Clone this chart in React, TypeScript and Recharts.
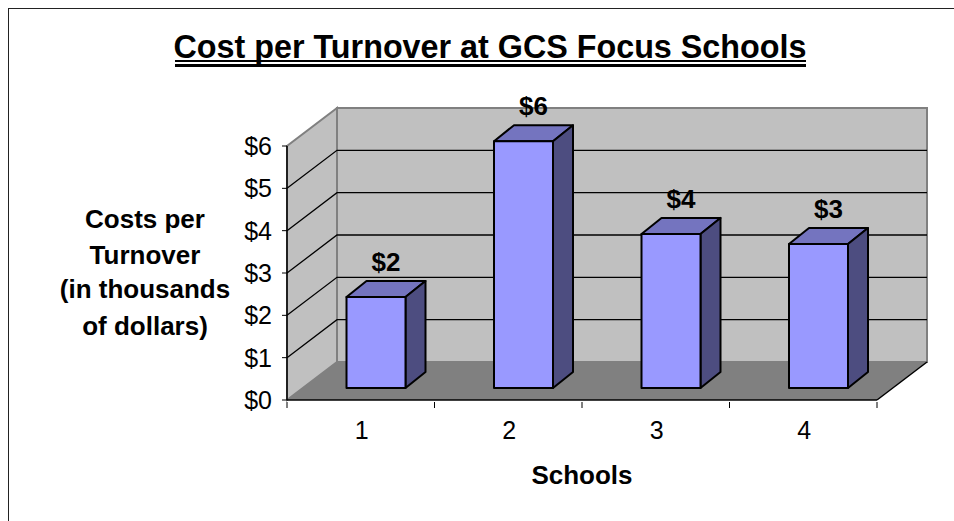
import { Bar, BarChart, LabelList, ReferenceArea, ReferenceLine, XAxis, YAxis } from "recharts";

const schools = ["1", "2", "3", "4"];
const costs = [2.15, 5.83, 3.64, 3.4];
const yTicks = [0, 1, 2, 3, 4, 5, 6];
const gridTicks = [1, 2, 3, 4, 5];
const yTitleLines = ["Costs per", "Turnover", "(in thousands", "of dollars)"];
const yTitleRows = [228, 264, 298, 335];

const chartData = schools.map((school, i) => ({ school, cost: costs[i] }));

const font = "'Liberation Sans', Arial, sans-serif";
const chartWidth = 954;
const chartHeight = 521;
const plot = { left: 287, top: 146, right: 77, bottom: 121 };
const bandWidth = (chartWidth - plot.left - plot.right) / schools.length;

// depth of the fake 3D box, and of the bars and how far they sit off the front edge
const depth = { dx: 50, dy: -38 };
const barDepth = { dx: 20, dy: -16 };
const barShift = { dx: 15.5, dy: -12 };

const WallsShape = ({ x, y, width, height }: any) => {
  const right = x + width;
  const bottom = y + height;
  const { dx, dy } = depth;
  return (
    <g>
      <polygon
        points={`${x},${bottom} ${x + dx},${bottom + dy} ${right + dx},${bottom + dy} ${right},${bottom}`}
        fill="#808080"
      />
      <polygon
        points={`${x},${bottom} ${x + dx},${bottom + dy} ${x + dx},${y + dy} ${x},${y}`}
        fill="#C0C0C0"
        stroke="#808080"
        strokeWidth={2}
      />
      <rect x={x + dx} y={y + dy} width={width} height={height} fill="#C0C0C0" stroke="#808080" strokeWidth={2} />
      <polygon
        points={`${x + dx},${bottom + dy} ${right + dx},${bottom + dy} ${right},${bottom} ${x},${bottom}`}
        fill="#808080"
      />
      <line x1={right} y1={bottom} x2={right + dx} y2={bottom + dy} stroke="#000" strokeWidth={1.5} />
    </g>
  );
};

const GridShape = ({ x1, y1, x2, y2 }: any) => {
  const { dx, dy } = depth;
  return (
    <polyline
      points={`${x1},${y1} ${x1 + dx},${y1 + dy} ${x2 + dx},${y2 + dy}`}
      fill="none"
      stroke="#000"
      strokeWidth={1.3}
    />
  );
};

const Bar3D = ({ x, y, width, height }: any) => {
  const left = x + barShift.dx;
  const top = y + barShift.dy;
  const right = left + width;
  const bottom = top + height;
  const { dx, dy } = barDepth;
  return (
    <g stroke="#000" strokeWidth={2} strokeLinejoin="round">
      <polygon
        points={`${left},${top} ${left + dx},${top + dy} ${right + dx},${top + dy} ${right},${top}`}
        fill="#7474BF"
      />
      <polygon
        points={`${right},${top} ${right + dx},${top + dy} ${right + dx},${bottom + dy} ${right},${bottom}`}
        fill="#4D4D80"
      />
      <rect x={left} y={top} width={width} height={height} fill="#9999FF" />
    </g>
  );
};

const BarValue = ({ x, y, width, value }: any) => (
  <text
    x={x + width / 2 + barShift.dx + barDepth.dx / 2}
    y={y + barShift.dy + barDepth.dy - 10}
    textAnchor="middle"
    fontFamily={font}
    fontWeight="bold"
    fontSize={26}
    fill="#000"
  >
    ${Math.round(value)}
  </text>
);

const SchoolTick = ({ x, y, payload, index }: any) => {
  const edge = x - bandWidth / 2;
  return (
    <g>
      <line x1={edge} y1={y - 8} x2={edge} y2={y - 2} stroke="#000" strokeWidth={1} />
      {index === schools.length - 1 && (
        <line x1={edge + bandWidth} y1={y - 8} x2={edge + bandWidth} y2={y - 2} stroke="#000" strokeWidth={1} />
      )}
      <text x={x + 1} y={y + 29} textAnchor="middle" fontFamily={font} fontSize={25} fill="#000">
        {payload.value}
      </text>
    </g>
  );
};

export default function App() {
  return (
    <div style={{ position: "absolute", left: 0, top: 0, width: chartWidth, height: chartHeight, overflow: "hidden", background: "#fff" }}>
      <div
        style={{
          position: "absolute",
          left: 8,
          top: 8,
          width: chartWidth,
          height: chartHeight,
          borderLeft: "1.5px solid #222",
          borderTop: "1.5px solid #222",
        }}
      />
      <BarChart
        width={chartWidth}
        height={chartHeight}
        data={chartData}
        margin={{ top: plot.top, right: plot.right, bottom: 0, left: 0 }}
        barSize={59}
        style={{ position: "absolute", left: 0, top: 0 }}
      >
        <XAxis
          dataKey="school"
          height={plot.bottom}
          axisLine={{ stroke: "#000", strokeWidth: 1.5 }}
          tickLine={false}
          tick={<SchoolTick />}
          tickSize={8}
          interval={0}
        />
        <YAxis
          width={plot.left}
          domain={[0, 6]}
          ticks={yTicks}
          tickFormatter={(v) => `$${v}`}
          axisLine={{ stroke: "#000", strokeWidth: 1.5 }}
          tickLine={{ stroke: "#000", strokeWidth: 1 }}
          tickSize={5}
          tick={{ fill: "#000", fontFamily: font, fontSize: 25 }}
          tickMargin={10}
        />
        <ReferenceArea y1={0} y2={6} shape={<WallsShape />} ifOverflow="visible" zIndex={40} />
        {gridTicks.map((tick) => (
          <ReferenceLine key={tick} y={tick} shape={<GridShape />} ifOverflow="visible" zIndex={50} />
        ))}
        <Bar dataKey="cost" shape={<Bar3D />} isAnimationActive={false}>
          <LabelList dataKey="cost" content={<BarValue />} />
        </Bar>
        <text x={490} y={58} textAnchor="middle" fontFamily={font} fontWeight="bold" fontSize={32.3} fill="#000">
          Cost per Turnover at GCS Focus Schools
        </text>
        <rect x={175} y={60} width={631} height={2} fill="#000" />
        <rect x={175} y={64} width={631} height={3} fill="#000" />
        {yTitleLines.map((line, i) => (
          <text key={line} x={145} y={yTitleRows[i]} textAnchor="middle" fontFamily={font} fontWeight="bold" fontSize={26} fill="#000">
            {line}
          </text>
        ))}
        <text x={582} y={484} textAnchor="middle" fontFamily={font} fontWeight="bold" fontSize={26} fill="#000">
          Schools
        </text>
      </BarChart>
    </div>
  );
}
